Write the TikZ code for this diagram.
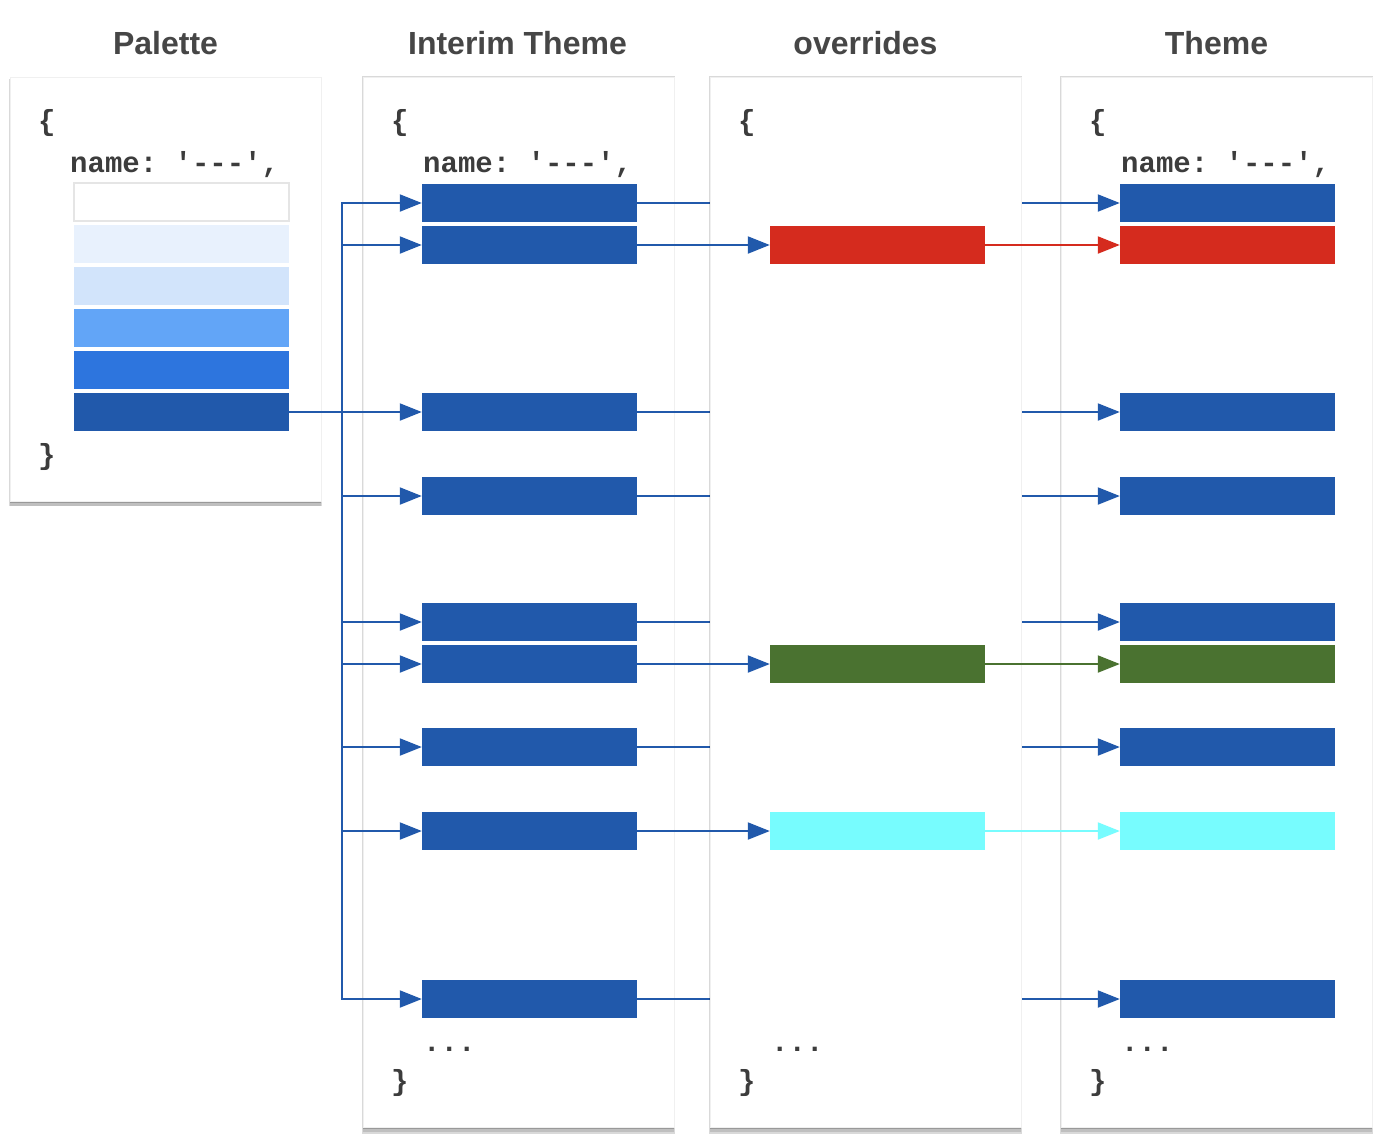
\documentclass[tikz,border=0pt]{standalone}
\usepackage{fontspec}
\setmainfont{Liberation Sans}
\setmonofont{Liberation Mono}
\usetikzlibrary{arrows.meta,shadows}

\definecolor{itblue}{HTML}{2159AB}
\definecolor{ovred}{HTML}{D52B1E}
\definecolor{ovgreen}{HTML}{4A7230}
\definecolor{ovcyan}{HTML}{77FCFE}
\definecolor{tintA}{HTML}{E8F1FD}
\definecolor{tintB}{HTML}{D2E4FB}
\definecolor{tintC}{HTML}{62A5F7}
\definecolor{tintD}{HTML}{2D75DE}
\definecolor{inkgrey}{HTML}{3C3C3C}

\begin{document}
\begin{tikzpicture}[
    x=1pt, y=-1pt,
    panel/.style={
        draw=black!6,
        fill=white,
        anchor=north west,
        inner sep=0pt,
        minimum width=311pt,
        drop shadow={shadow xshift=0pt, shadow yshift=-5pt,
                     opacity=0.12, fill=black},
        drop shadow={shadow xshift=0pt, shadow yshift=-3pt,
                     shadow scale=1.008, opacity=0.15, fill=black},
        drop shadow={shadow xshift=0pt, shadow yshift=-1.5pt,
                     opacity=0.2, fill=black}
    },
    title/.style={
        font=\fontsize{32}{36}\selectfont\bfseries,
        text=inkgrey!95
    },
    code/.style={
        font=\fontsize{29}{32}\selectfont\ttfamily\bfseries,
        text=inkgrey,
        inner sep=0pt
    },
    bar/.style={
        fill=itblue,
        inner sep=0pt,
        minimum width=215pt,
        minimum height=38pt
    },
    swatch/.style={
        inner sep=0pt,
        minimum width=215pt,
        minimum height=38pt
    },
    flow/.style={
        draw=itblue,
        line width=2pt
    },
    >={Triangle[length=22pt,width=17pt]}
]
\useasboundingbox (0,0) rectangle (1384,1138);

% column titles
\node[title] (tpal) at (165.5,43) {Palette};
\node[title] (tint) at (517.5,43) {Interim Theme};
\node[title] (tover) at (865.5,43) {overrides};
\node[title] (tthm) at (1216.5,43) {Theme};

% panels under the pass-through lines
\node[panel, minimum height=424pt] (palbox) at (10,77) {};
\node[panel, minimum height=1050pt] (intbox) at (363,77) {};
\node[panel, minimum height=1050pt] (thmbox) at (1061,77) {};

% palette
\node[code, anchor=west] (palopen) at (38,123) {\{};
\node[code, anchor=base west] (palname) at (70,172) {name: '---',};
\foreach \i/\c in {1/white,2/tintA,3/tintB,4/tintC,5/tintD,6/itblue}
    \node[swatch, fill=\c] (pal\i) at (181.5,{160+42*\i}) {};
\draw[black!10, line width=1.5pt] (pal1.south west) rectangle (pal1.north east);
\node[code, anchor=west] (palclose) at (38,457) {\}};

% interim theme
\node[code, anchor=west] (intopen) at (391,123) {\{};
\node[code, anchor=base west] (intname) at (423,172) {name: '---',};
\foreach \i/\y in {1/203,2/245,3/412,4/496,5/622,6/664,7/747,8/831,9/999}
    \node[bar] (it\i) at (529.5,\y) {};
\node[code, anchor=base west] (intdots) at (423,1051) {...};
\node[code, anchor=west] (intclose) at (391,1083) {\}};

% theme
\node[code, anchor=west] (thmopen) at (1089,123) {\{};
\node[code, anchor=base west] (thmname) at (1121,172) {name: '---',};
\foreach \i/\y/\c in {1/203/itblue,2/245/ovred,3/412/itblue,4/496/itblue,
                      5/622/itblue,6/664/ovgreen,7/747/itblue,8/831/ovcyan,9/999/itblue}
    \node[bar, fill=\c] (th\i) at (1227.5,\y) {};
\node[code, anchor=base west] (thmdots) at (1121,1051) {...};
\node[code, anchor=west] (thmclose) at (1089,1083) {\}};

% palette to interim
\coordinate (fork) at (342,412);
\draw[flow] (pal6.east) -- (fork);
\foreach \i in {1,...,9}
    \draw[flow,->] (fork) |- (it\i.west);

% untouched keys pass behind overrides
\foreach \i in {1,3,4,5,7,9}
    \draw[flow,->] (it\i.east) -- (th\i.west);

% overrides
\node[panel, minimum height=1050pt] (ovbox) at (710,77) {};
\node[code, anchor=west] (ovopen) at (738,123) {\{};
\foreach \i/\y/\c in {2/245/ovred,6/664/ovgreen,8/831/ovcyan}
    \node[bar, fill=\c] (ov\i) at (877.5,\y) {};
\node[code, anchor=base west] (ovdots) at (771,1051) {...};
\node[code, anchor=west] (ovclose) at (738,1083) {\}};

\foreach \i/\c in {2/ovred,6/ovgreen,8/ovcyan} {
    \draw[flow,->] (it\i.east) -- (ov\i.west);
    \draw[flow,->,draw=\c,fill=\c] (ov\i.east) -- (th\i.west);
}

\end{tikzpicture}
\end{document}
